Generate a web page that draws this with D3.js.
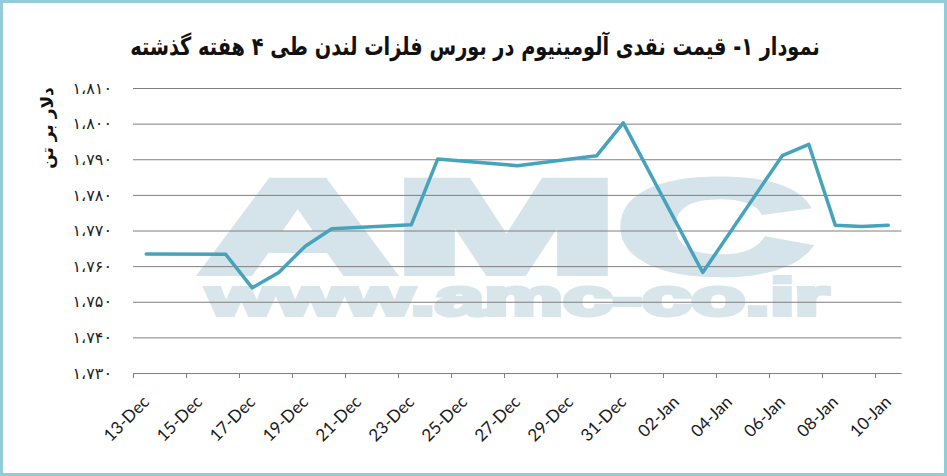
<!DOCTYPE html>
<html><head><meta charset="utf-8">
<script src="https://cdn.jsdelivr.net/npm/d3@7"></script>
<style>
html,body{margin:0;padding:0;background:#fff;}
svg{display:block;}
</style></head>
<body>
<svg id="chart" width="947" height="476"></svg>
<script>
// ---- data ----
const dates = ["2019-12-13","2019-12-16","2019-12-17","2019-12-18","2019-12-19","2019-12-20","2019-12-23","2019-12-24","2019-12-27","2019-12-30","2019-12-31","2020-01-03","2020-01-06","2020-01-07","2020-01-08","2020-01-09","2020-01-10"];
const prices = [1763.4,1763.3,1753.9,1758.2,1765.6,1770.5,1771.6,1790.1,1788.2,1791.0,1800.2,1758.2,1791.0,1794.2,1771.5,1771.1,1771.5];
const tickDates = ["2019-12-13","2019-12-15","2019-12-17","2019-12-19","2019-12-21","2019-12-23","2019-12-25","2019-12-27","2019-12-29","2019-12-31","2020-01-02","2020-01-04","2020-01-06","2020-01-08","2020-01-10"];
const yTicks = [1730,1740,1750,1760,1770,1780,1790,1800,1810];
const titleText = "نمودار ۱- قیمت نقدی آلومینیوم در بورس فلزات لندن طی ۴ هفته گذشته";
const yTitle = "دلار بر تن";
const watermark1 = "AMC";
const watermark2 = "www.amc-co.ir";

(function(){
// ---- helpers ----
const parse = d3.timeParse("%Y-%m-%d");
const fmtTick = d3.timeFormat("%d-%b");
const persian = s => s.replace(/[0-9]/g, c => "۰۱۲۳۴۵۶۷۸۹"[+c]);
const fmtY = v => persian(d3.format(",")(v)).replace(",", "،");
const mid = d => d3.timeHour.offset(d, 12);

const svg = d3.select("#chart");
const W = 947, H = 476;
const mLeft = 133, mRight = 901.5, mTop = 88, mBottom = 373;

// border
svg.append("rect").attr("x",1.5).attr("y",1.5).attr("width",W-3).attr("height",H-3)
  .attr("fill","#fff").attr("stroke","#93cbd6").attr("stroke-width",3);

const x = d3.scaleTime()
  .domain([parse(dates[0]), d3.timeDay.offset(parse(dates[dates.length-1]),1)])
  .range([mLeft, mRight]);
const y = d3.scaleLinear().domain([1730,1810]).range([mBottom, mTop]);

// watermark
svg.append("text").attr("x",201).attr("y",272)
  .attr("font-family","'Liberation Sans', Arial, sans-serif").attr("font-weight","bold")
  .attr("font-size",131).attr("fill","#d4e4ea").attr("stroke","#d4e4ea").attr("stroke-width",8)
  .attr("stroke-linejoin","miter")
  .attr("textLength",610).attr("lengthAdjust","spacingAndGlyphs").text(watermark1);
svg.append("text").attr("x",207).attr("y",315)
  .attr("font-family","'Liberation Sans', Arial, sans-serif").attr("font-weight","bold")
  .attr("font-size",52).attr("fill","#d8e6ec").attr("stroke","#d8e6ec").attr("stroke-width",4)
  .attr("textLength",622).attr("lengthAdjust","spacingAndGlyphs").text(watermark2);

// gridlines + y labels
const yAxis = d3.axisLeft(y).tickValues(yTicks).tickSize(-(mRight-mLeft)).tickFormat(fmtY).tickPadding(21);
const gy = svg.append("g").attr("transform",`translate(${mLeft},0)`).call(yAxis);
gy.select(".domain").remove();
gy.selectAll(".tick line").attr("stroke","#7f7f7f").attr("stroke-width",1);
gy.selectAll(".tick text").attr("font-family","'DejaVu Sans', sans-serif").attr("font-size",16)
  .attr("letter-spacing",1.5).attr("fill","#222");

// x axis
const xAxis = d3.axisBottom(x).tickValues(tickDates.map(parse)).tickSize(5).tickFormat("");
const gx = svg.append("g").attr("transform",`translate(0,${mBottom})`).call(xAxis);
gx.select(".domain").attr("stroke","#7f7f7f").attr("d",`M${mLeft},0.5H${mRight}`);
gx.selectAll(".tick line").attr("stroke","#7f7f7f");

// x labels
svg.append("g").selectAll("text").data(tickDates).join("text")
  .attr("transform", d => `translate(${x(mid(parse(d)))+4},${mBottom+30}) rotate(-45)`)
  .attr("text-anchor","end")
  .attr("font-family","Lato, 'Open Sans', sans-serif").attr("font-size",17)
  .attr("fill","#1a1a1a").text(d => fmtTick(parse(d)));

// line
const line = d3.line().x((d,i) => x(mid(parse(dates[i])))).y(d => y(d));
svg.append("path").datum(prices).attr("d",line).attr("fill","none")
  .attr("stroke","#47a3bc").attr("stroke-width",3.5).attr("stroke-linejoin","round").attr("stroke-linecap","round");

// title (fit to reference width)
const t = svg.append("text").attr("text-anchor","middle").attr("direction","rtl")
  .attr("font-family","'DejaVu Sans', sans-serif").attr("font-weight","bold").attr("font-size",25)
  .attr("fill","#111").text(titleText);
const tw = t.node().getComputedTextLength();
const sx = 690 / tw;
t.attr("transform",`translate(475,55) scale(${sx},1)`);

// y title
svg.append("text").attr("transform","translate(53,128) rotate(-90)").attr("text-anchor","middle")
  .attr("direction","rtl").attr("font-family","'DejaVu Sans', sans-serif").attr("font-weight","bold")
  .attr("font-size",17).attr("fill","#111").text(yTitle);
})();
</script>
</body></html>
